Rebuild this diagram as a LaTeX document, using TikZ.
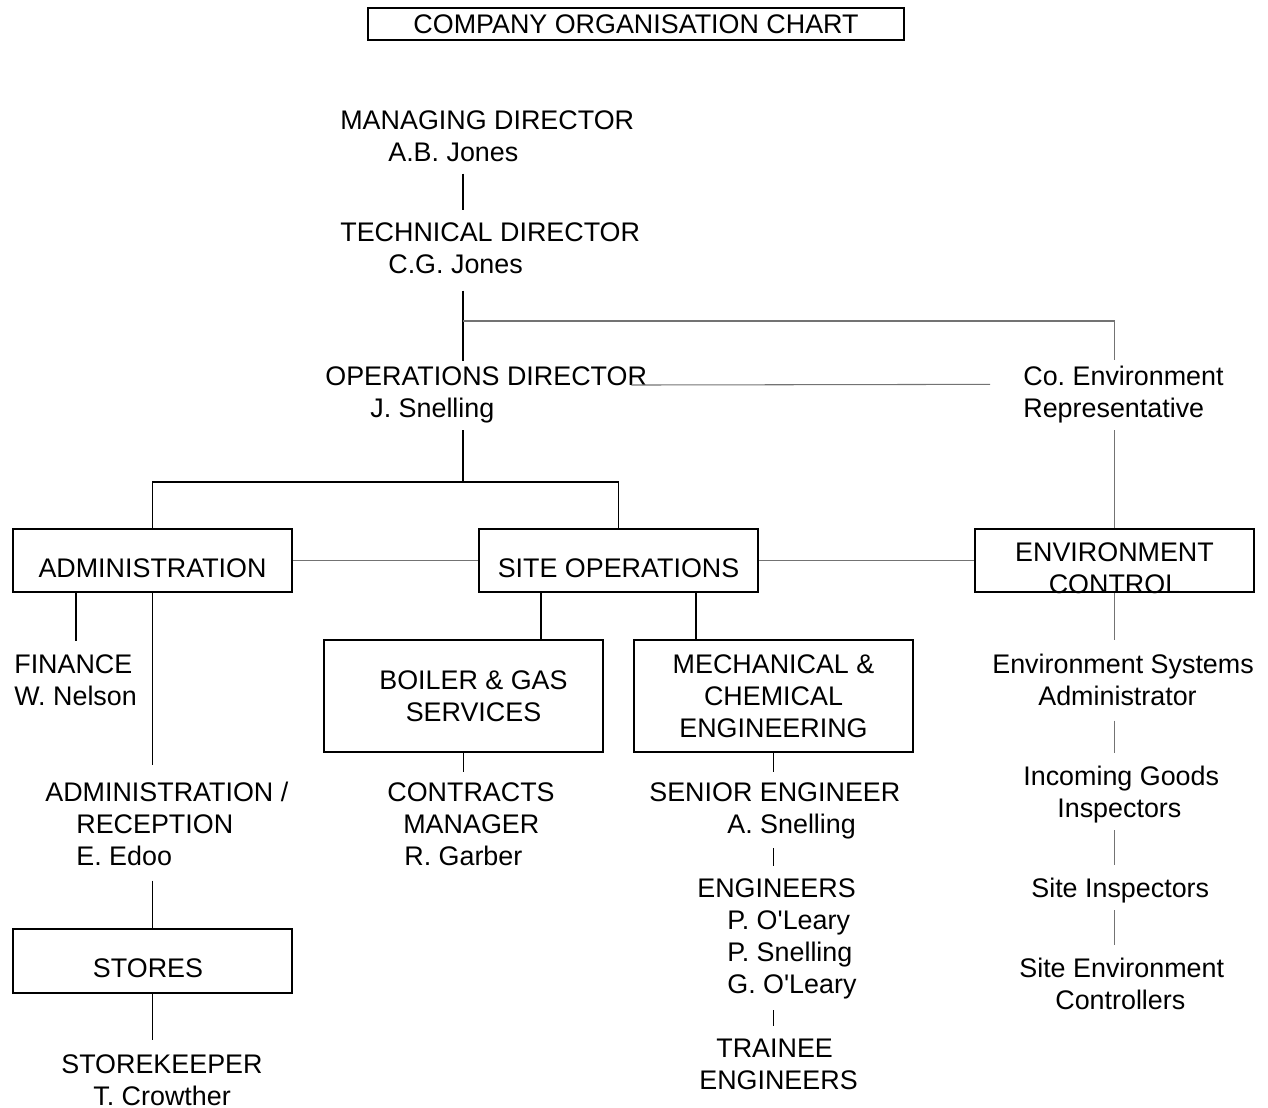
\documentclass[tikz,border=0pt]{standalone}
\usepackage{fontspec}
\setmainfont{Liberation Sans}
\frenchspacing
\begin{document}
\begin{tikzpicture}[x=0.02cm,y=-0.02cm,
    font=\fontsize{15.3pt}{18.2pt}\selectfont,
    txt/.style={inner sep=0pt,align=left,anchor=base west},
    unit/.style={draw,line width=1.1pt,minimum width=5.58cm,inner sep=0pt,align=center},
    btxt/.style={yshift=-0.15cm,inner sep=0pt,align=center},
    main/.style={line width=1.1pt},
    side/.style={line width=0.6pt,black!55},
    thin/.style={line width=0.8pt}]
    \useasboundingbox (0,0) rectangle (1268,1108);
    \node[draw,line width=0.8pt,minimum width=10.72cm,minimum height=0.64cm,inner sep=0pt] (title) at (636,24) {COMPANY ORGANISATION CHART};
    \node[txt] (md) at (340,161.6) {MANAGING DIRECTOR\\\hspace*{0.96cm}A.B. Jones};
    \node[txt] (td) at (340,273.6) {TECHNICAL DIRECTOR\\\hspace*{0.96cm}C.G. Jones};
    \node[txt] (od) at (325,417.6) {OPERATIONS DIRECTOR\\\hspace*{0.9cm}J. Snelling};
    \node[txt] (rep) at (1023,417.6) {Co. Environment\\Representative};
    \node[unit,minimum height=1.26cm,label={[btxt]center:ADMINISTRATION}] (admin) at (152.5,560.5) {};
    \node[unit,minimum height=1.26cm,label={[btxt]center:SITE OPERATIONS}] (site) at (618.5,560.5) {};
    \node[unit,minimum height=1.26cm,label={[btxt]center:ENVIRONMENT\\CONTROL}] (env) at (1114.5,560.5) {};
    \node[unit,minimum height=2.24cm] (boiler) at (463.5,696) {\hspace*{0.4cm}BOILER \& GAS\\\hspace*{0.4cm}SERVICES};
    \node[unit,minimum height=2.24cm] (mech) at (773.5,696) {MECHANICAL \&\\CHEMICAL\\ENGINEERING};
    \node[unit,minimum height=1.28cm,label={[btxt,xshift=-0.09cm]center:STORES}] (stores) at (152.5,961) {};
    \node[txt] (fin) at (14,705.6) {FINANCE\\W. Nelson};
    \node[txt] (rec) at (45,865.6) {ADMINISTRATION /\\\hspace*{0.62cm}RECEPTION\\\hspace*{0.62cm}E. Edoo};
    \node[txt] (stk) at (61,1105) {STOREKEEPER\\\hspace*{0.64cm}T. Crowther};
    \node[txt] (cm) at (387,865.6) {CONTRACTS\\\hspace*{0.32cm}MANAGER\\\hspace*{0.34cm}R. Garber};
    \node[txt] (se) at (649,833.6) {SENIOR ENGINEER\\\hspace*{1.56cm}A. Snelling};
    \node[txt] (eng) at (697,993.6) {ENGINEERS\\\hspace*{0.6cm}P. O\textquotesingle Leary\\\hspace*{0.6cm}P. Snelling\\\hspace*{0.6cm}G. O\textquotesingle Leary};
    \node[txt] (tr) at (699,1089.6) {\hspace*{0.34cm}TRAINEE\\ENGINEERS};
    \node[txt] (esa) at (992,705.6) {Environment Systems\\\hspace*{0.92cm}Administrator};
    \node[txt] (igi) at (1023,817.6) {Incoming Goods\\\hspace*{0.68cm}Inspectors};
    \node[txt] (si) at (1031,897.6) {Site Inspectors};
    \node[txt] (sec) at (1019,1009.6) {Site Environment\\\hspace*{0.72cm}Controllers};
    \coordinate (spine) at (463,321);
    \coordinate (split) at (463,482);
    \coordinate (sitel) at ([xshift=-1.55cm]site.south);
    \coordinate (siter) at ([xshift=1.55cm]site.south);
    \draw[main,shorten <=0.23cm,shorten >=0.26cm] (md.south -| spine) -- (td.north -| spine);
    \draw[main,shorten <=0.33cm,shorten >=0.12cm] (td.south -| spine) -- (od.north -| spine);
    \draw[side,shorten >=0.12cm] (spine) -| (rep.north -| env);
    \draw[side,shorten <=-0.32cm,shorten >=0.66cm] ([yshift=-0.37cm]od.north east) -- ([yshift=-0.37cm]rep.north west);
    \draw[main,shorten <=0.13cm] (od.south -| spine) -- (split);
    \draw[main] (admin.north) |- (split) -| (site.north);
    \draw[side] (admin) -- (site);
    \draw[side] (site) -- (env);
    \draw[side,shorten <=0.13cm] (rep.south -| env) -- (env.north);
    \draw[side,shorten >=0.28cm] (env.south) -- (esa.north -| env);
    \draw[side,shorten <=0.29cm,shorten >=0.25cm] (esa.south -| env) -- (igi.north -| env);
    \draw[side,shorten <=0.13cm,shorten >=0.25cm] (igi.south -| env) -- (si.north -| env);
    \draw[side,shorten <=0.13cm,shorten >=0.25cm] (si.south -| env) -- (sec.north -| env);
    \draw[main,shorten >=0.27cm] (admin.south -| fin) -- (fin.north);
    \draw[main,shorten >=0.33cm] (admin.south) -- (rec.north -| admin);
    \draw[main,shorten <=0.29cm] (rec.south -| stores) -- (stores.north);
    \draw[main,shorten >=0.27cm] (stores.south) -- (stk.north -| stores);
    \draw[main] (sitel) -- (sitel |- boiler.north);
    \draw[main] (siter) -- (siter |- mech.north);
    \draw[main,shorten >=0.21cm] (boiler.south) -- (cm.north -| boiler);
    \draw[main,shorten >=0.21cm] (mech.south) -- (se.north -| mech);
    \draw[thin,shorten <=0.17cm,shorten >=0.25cm] (se.south -| mech) -- (eng.north -| mech);
    \draw[thin,shorten <=0.21cm,shorten >=0.25cm] (eng.south -| mech) -- (tr.north -| mech);
\end{tikzpicture}
\end{document}
